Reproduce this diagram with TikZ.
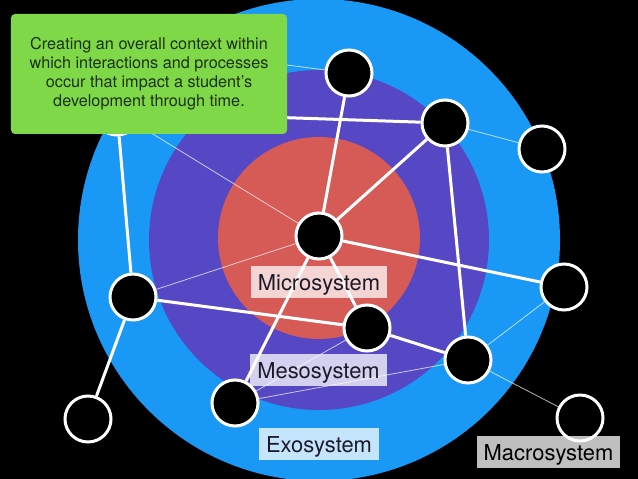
\documentclass[tikz,border=0pt]{standalone}
\usepackage{fontspec}
\setmainfont{TeX Gyre Heros}
\definecolor{exoblue}{RGB}{25,153,245}
\definecolor{mesopurple}{RGB}{86,72,196}
\definecolor{microred}{RGB}{214,90,86}
\definecolor{notegreen}{RGB}{126,216,72}
\definecolor{notetext}{RGB}{30,48,22}
\definecolor{labeltext}{RGB}{28,26,40}

\begin{document}
\begin{tikzpicture}[
        x=1bp, y=-1bp,
        person/.style={circle, draw=white, line width=3bp, fill=black,
                       minimum size=46bp, inner sep=0pt},
        strong/.style={draw=white, line width=3bp},
        weak/.style={draw=white, line width=0.8bp, opacity=0.7},
        layer/.style={fill=white, fill opacity=0.75, text opacity=1,
                      text=labeltext, inner sep=0pt, inner xsep=7bp,
                      minimum height=32bp, text height=16bp, text depth=0bp,
                      font=\fontsize{22}{26}\selectfont},
        note/.style={fill=notegreen, rounded corners=4bp, align=center,
                     text=notetext, minimum width=276bp, minimum height=120bp,
                     font=\fontsize{16.3}{19.2}\selectfont},
    ]

    \useasboundingbox (0,0) rectangle (638,479);
    \clip (0,0) rectangle (638,479);
    \fill[black] (0,0) rectangle (638,479);

    % --- The three nested rings -------------------------------------------
    \fill[exoblue]    (319,240) circle[radius=241bp];
    \fill[mesopurple] (319,240) circle[radius=170bp];
    \fill[microred]   (319,238) circle[radius=101bp];

    % --- People / settings ------------------------------------------------
    \node[person] (hid)   at (117,112) {};
    \node[person] (top)   at (349,73)  {};
    \node[person] (upr)   at (445,123) {};
    \node[person] (outr)  at (542,149) {};
    \node[person] (ctr)   at (319,236) {};
    \node[person] (left)  at (133,297) {};
    \node[person] (right) at (564,287) {};
    \node[person] (low)   at (367,328) {};
    \node[person] (lowr)  at (468,360) {};
    \node[person] (botc)  at (235,403) {};
    \node[person] (botl)  at (88,419)  {};
    \node[person] (far)   at (580,418) {};
    \coordinate (behind) at (240,59);

    % --- Strong ties ------------------------------------------------------
    \draw[strong] (hid) -- (left);
    \draw[strong] (left) -- (botl);
    \draw[strong] (hid) -- (upr);
    \draw[strong] (top) -- (ctr);
    \draw[strong] (upr) -- (ctr);
    \draw[strong] (upr) -- (lowr);
    \draw[strong] (ctr) -- (right);
    \draw[strong] (ctr) -- (low);
    \draw[strong] (ctr) -- (botc);
    \draw[strong] (left) -- (low);
    \draw[strong] (low) -- (lowr);

    % --- Weak ties --------------------------------------------------------
    \draw[weak] (top) -- (behind);
    \draw[weak] (upr) -- (outr);
    \draw[weak] (hid) -- (ctr);
    \draw[weak] (ctr) -- (left);
    \draw[weak] (botc) -- (low);
    \draw[weak] (botc) -- (lowr);
    \draw[weak] (lowr) -- (right);
    \draw[weak] (lowr) -- (far);

    % --- Ring labels ------------------------------------------------------
    \node[layer] (micro) at (319,282)   {Microsystem};
    \node[layer] (meso)  at (318.5,370) {Mesosystem};
    \node[layer] (exo)   at (319,444)   {Exosystem};
    \node[layer, text=black] (macro) at (548.5,452) {Macrosystem};

    % --- Note -------------------------------------------------------------
    \node[note] (context) at (149,74)
        {Creating an overall context within\\
         which interactions and processes\\
         occur that impact a student’s\\
         development through time.};

\end{tikzpicture}
\end{document}
